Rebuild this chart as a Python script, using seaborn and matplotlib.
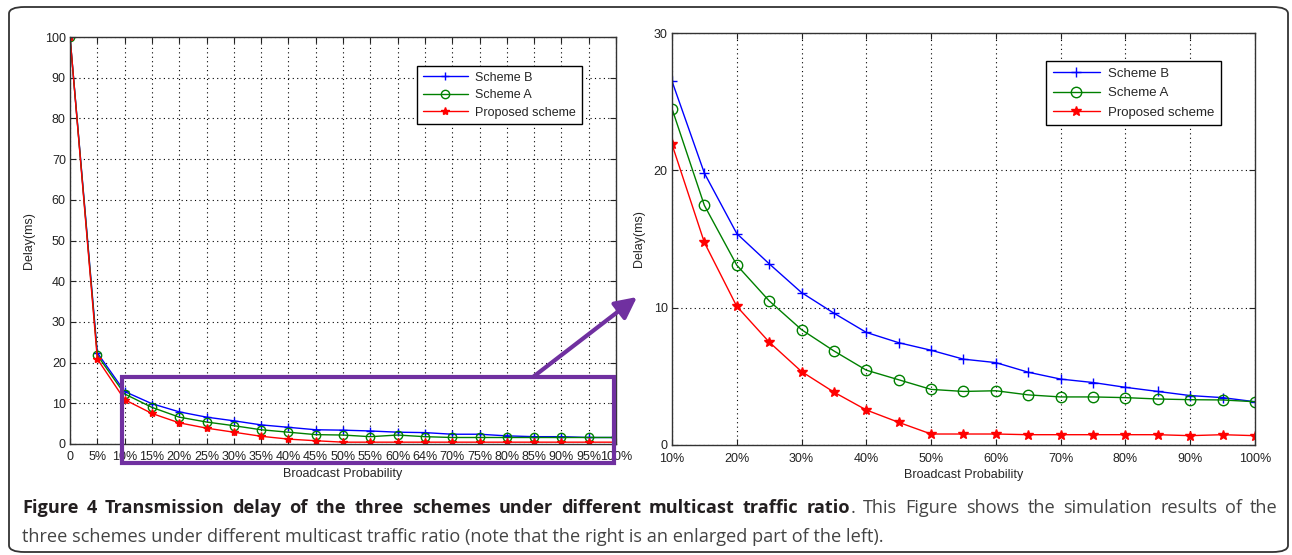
import matplotlib
matplotlib.use("Agg")
import matplotlib.pyplot as plt
import numpy as np
import seaborn as sns
from matplotlib.patches import FancyBboxPatch, Rectangle

# %%
# left panel: full range, categorical x axis
left_labels = ["0", "5%", "10%", "15%", "20%", "25%", "30%", "35%", "40%", "45%", "50%",
               "55%", "60%", "64%", "70%", "75%", "80%", "85%", "90%", "95%", "100%"]
left_b = [100, 22.4, 12.9, 9.9, 7.9, 6.6, 5.7, 4.7, 4.1, 3.5, 3.4,
          3.2, 2.9, 2.8, 2.4, 2.4, 2.0, 1.8, 1.8, 1.6, 1.6]
left_a = [100, 21.8, 12.3, 9.0, 6.6, 5.4, 4.5, 3.5, 2.9, 2.3, 2.2,
          1.8, 2.2, 1.8, 1.6, 1.6, 1.6, 1.6, 1.6, 1.6, 1.6]
left_p = [100, 20.9, 10.9, 7.5, 5.2, 3.9, 2.9, 1.9, 1.2, 0.8, 0.45,
          0.45, 0.45, 0.45, 0.45, 0.45, 0.45, 0.45, 0.45, 0.45, 0.45]

# right panel: zoomed part, 10% .. 100%
right_x = [10, 15, 20, 25, 30, 35, 40, 45, 50, 55, 60, 65, 70, 75, 80, 85, 90, 95, 100]
right_b = [26.5, 19.8, 15.4, 13.2, 11.1, 9.6, 8.2, 7.45, 6.9, 6.25, 6.0,
           5.3, 4.8, 4.55, 4.2, 3.9, 3.6, 3.45, 3.15]
right_a = [24.5, 17.45, 13.1, 10.5, 8.4, 6.85, 5.45, 4.75, 4.05, 3.9, 3.95,
           3.65, 3.5, 3.5, 3.45, 3.35, 3.3, 3.28, 3.15]
right_p = [21.9, 14.75, 10.1, 7.5, 5.35, 3.85, 2.55, 1.65, 0.8, 0.8, 0.8,
           0.75, 0.75, 0.75, 0.75, 0.75, 0.68, 0.75, 0.68]

names = ["Scheme B", "Scheme A", "Proposed scheme"]
colors = ["#0000ff", "#008000", "#ff0000"]
markers = ["+", "o", "*"]

caption_bold = "Figure 4 Transmission delay of the three schemes under different multicast traffic ratio"
caption_rest1 = ". This Figure shows the simulation results of the"
caption_line2 = "three schemes under different multicast traffic ratio (note that the right is an enlarged part of the left)."

# %%
sns.set_style("ticks")
plt.rcParams["font.family"] = ["Liberation Sans", "DejaVu Sans"]

W, H = 1292, 555
fig = plt.figure(figsize=(W / 100, H / 100), dpi=100)
ax1 = fig.add_axes([0.0542, 0.2, 0.4226, 0.7333])
ax2 = fig.add_axes([0.5201, 0.1982, 0.4512, 0.7423])


def draw_series(ax, x, ys, ms):
    for name, y, c, m in zip(names, ys, colors, markers):
        sns.lineplot(x=x, y=y, ax=ax, color=c, marker=m, markersize=ms,
                     markeredgecolor=c, markerfacecolor="none" if m == "o" else c,
                     markeredgewidth=1.0, linewidth=1.0, label=name)


def style_axes(ax):
    ax.grid(True, color="black", linestyle=(0, (1, 3)), linewidth=0.8)
    ax.tick_params(direction="in", top=True, right=True, length=4, width=0.8,
                   labelsize=9, colors="#222222")
    ax.tick_params(axis="x", pad=5)
    ax.tick_params(axis="y", pad=3)
    for s in ax.spines.values():
        s.set_color("#333333")
        s.set_linewidth(1.0)
    ax.set_xlabel("Broadcast Probability", fontsize=9)
    ax.set_ylabel("Delay(ms)", fontsize=9)


# left
pos = np.arange(len(left_labels))
draw_series(ax1, pos, [left_b, left_a, left_p], 6)
ax1.set_xlim(0, len(left_labels) - 1)
ax1.set_ylim(0, 100)
ax1.set_xticks(pos)
ax1.set_xticklabels(left_labels)
ax1.set_yticks(np.arange(0, 101, 10))
style_axes(ax1)
ax1.yaxis.labelpad = 7
ax1.xaxis.labelpad = 4
ax1.legend(loc="upper left", bbox_to_anchor=(0.636, 0.929), fancybox=False,
           edgecolor="black", framealpha=1, fontsize=9, handlelength=3.6,
           borderpad=0.45, labelspacing=0.45, handletextpad=0.6, borderaxespad=0)

# right
draw_series(ax2, right_x, [right_b, right_a, right_p], 7.5)
ax2.set_xlim(10, 100)
ax2.set_ylim(0, 30)
ax2.set_xticks(np.arange(10, 101, 10))
ax2.set_xticklabels([f"{v}%" for v in range(10, 101, 10)])
ax2.set_yticks([0, 10, 20, 30])
style_axes(ax2)
ax2.tick_params(axis="x", pad=6)
ax2.yaxis.labelpad = 6
ax2.xaxis.labelpad = 3
ax2.legend(loc="upper left", bbox_to_anchor=(0.6415, 0.932), fancybox=False,
           edgecolor="black", framealpha=1, fontsize=9.5, handlelength=3.6,
           borderpad=0.5, labelspacing=0.55, handletextpad=0.6, borderaxespad=0)

# zoom box and arrow
purple = "#7030a0"
box = Rectangle((1.9, -4.7), 18.03, 21.2, transform=ax1.transData, fill=False,
                edgecolor=purple, linewidth=3, clip_on=False, zorder=10)
ax1.add_patch(box)
ax1.annotate("", xy=(637 / W, 1 - 297 / H), xycoords="figure fraction",
             xytext=(533 / W, 1 - 377 / H), textcoords="figure fraction",
             arrowprops=dict(arrowstyle="-|>,head_length=1.3,head_width=0.65",
                             color=purple, lw=3, shrinkA=0, shrinkB=0),
             zorder=11, annotation_clip=False)

# outer frame
frame = FancyBboxPatch((9 / W, 3 / H), 1279 / W, 545 / H,
                       boxstyle="round,pad=0,rounding_size=0.012",
                       transform=fig.transFigure, fill=False,
                       edgecolor="#333333", linewidth=1.3)
fig.patches.append(frame)

# caption, first line justified between x=22 and x=1278
cap_font = ["Open Sans", "DejaVu Sans"]
cap_size = 13.1
fig.canvas.draw()
r = fig.canvas.get_renderer()


def width_of(s, weight):
    t = fig.text(0, 0, s, fontsize=cap_size, fontweight=weight, family=cap_font)
    w = t.get_window_extent(r).width
    t.remove()
    return w


tokens = [(w, "bold") for w in caption_bold.split(" ")]
rest = caption_rest1.split(" ")
tokens.append((rest[0], "normal"))  # the "." glued to the bold part
tokens += [(w, "normal") for w in rest[1:]]
glued = len(caption_bold.split(" "))  # index of "." token
widths = [width_of(s, wt) for s, wt in tokens]
n_gaps = len(tokens) - 2
gap = (1278 - 22 - sum(widths)) / n_gaps
x = 22.0
y1 = 1 - 508 / H
for i, ((s, wt), w) in enumerate(zip(tokens, widths)):
    fig.text(x / W, y1, s, fontsize=cap_size, fontweight=wt, family=cap_font,
             color="#231f20" if wt == "bold" else "#444444", va="center")
    x += w
    if i + 1 < len(tokens) and i + 1 != glued:
        x += gap
fig.text(22 / W, 1 - 537 / H, caption_line2, fontsize=cap_size, family=cap_font,
         color="#444444", va="center")

fig.savefig("out.png", dpi=100)
